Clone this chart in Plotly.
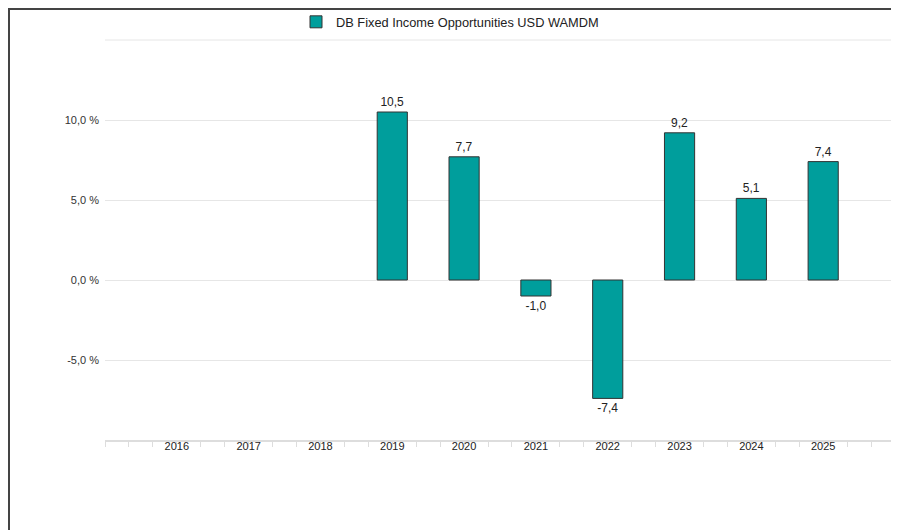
import plotly.graph_objects as go

years = [2016, 2017, 2018, 2019, 2020, 2021, 2022, 2023, 2024, 2025]
returns = [None, None, None, 10.5, 7.7, -1.0, -7.4, 9.2, 5.1, 7.4]
series_name = "DB Fixed Income Opportunities USD WAMDM"
y_tickvals = [-10, -5, 0, 5, 10, 15]
y_ticktext = ["", "-5,0 %", "0,0 %", "5,0 %", "10,0 %", ""]

labels = ["" if v is None else f"{v:.1f}".replace(".", ",") for v in returns]

OFF = 8  # page body margin
W, H = 899 - OFF, 530 - OFF
L, T = 105 - OFF, 40 - OFF
pw, ph = 790, 400
R, B = W - L - pw, H - T - ph

def px(x):
    return (x - OFF - L) / pw

def py(y):
    return (T + ph - (y - OFF)) / ph

fig = go.Figure()
fig.add_trace(go.Bar(
    x=years, y=returns, name=series_name,
    width=0.42,
    marker=dict(color="#009E9C", line=dict(color="#333333", width=1)),
    text=labels, textposition="outside", cliponaxis=False,
    textfont=dict(size=12, color="#222222"),
    showlegend=True,
))

fig.update_layout(
    width=W, height=H,
    margin=dict(l=L, r=R, t=T, b=B, autoexpand=False),
    paper_bgcolor="white", plot_bgcolor="white",
    font=dict(family="Liberation Sans, Arial, sans-serif", size=11, color="#333333"),
    showlegend=True,
    legend=dict(orientation="h", x=px(296), xanchor="left", y=py(22), yanchor="middle",
                itemwidth=30,
                font=dict(size=12.8, color="#222222"), bgcolor="rgba(0,0,0,0)"),
    xaxis=dict(range=[2015, 2026], tickvals=years, ticktext=[str(y) for y in years],
               ticks="", ticklen=0, showgrid=False, zeroline=False,
               showline=True, linecolor="#dddddd", linewidth=2,
               ticklabelstandoff=-5,
               tickfont=dict(size=11, color="#222222"),
               minor=dict(ticks="outside", ticklen=5, tickcolor="#dddddd", tick0=2015, dtick=1/3,
                          showgrid=False)),
    yaxis=dict(range=[-10, 15], tickvals=y_tickvals, ticktext=y_ticktext,
               showgrid=True, gridcolor="#e6e6e6", gridwidth=1,
               zeroline=False, showline=False, ticks="", ticklabelstandoff=5,
               tickfont=dict(size=11, color="#333333")),
    shapes=[
        dict(type="line", xref="paper", yref="paper", x0=px(9), x1=px(9), y0=py(8), y1=py(530),
             line=dict(color="#444444", width=2)),
        dict(type="line", xref="paper", yref="paper", x0=px(8), x1=px(899), y0=py(9), y1=py(9),
             line=dict(color="#444444", width=2)),
        dict(type="line", xref="paper", yref="paper", x0=0, x1=1, y0=1, y1=1,
             line=dict(color="#e6e6e6", width=1)),
    ],
)

fig.write_html("out.html")
